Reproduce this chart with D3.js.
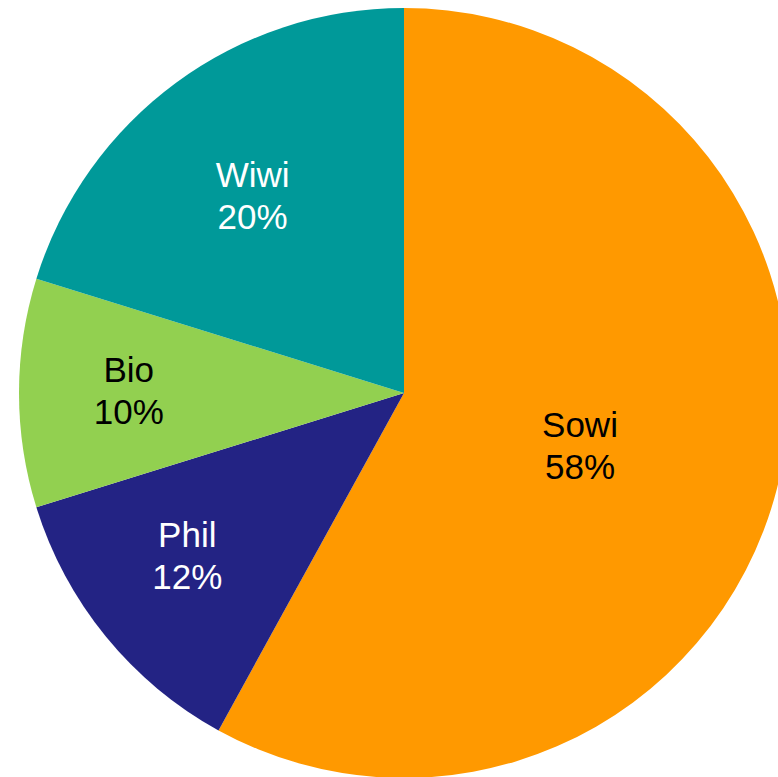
<!DOCTYPE html>
<html><head><meta charset="utf-8">
<script src="https://cdn.jsdelivr.net/npm/d3@7"></script>
<style>html,body{margin:0;padding:0;background:#fff;}svg{display:block;}</style>
</head><body>
<svg id="chart" width="778" height="777"></svg>
<script>
const categories = ["Sowi", "Phil", "Bio", "Wiwi"];
const values = [58.0, 12.2, 9.6, 20.2];
const colors = ["#FF9900", "#232384", "#92D050", "#009999"];
const textColors = ["#000000", "#ffffff", "#000000", "#ffffff"];
const labelRadiusFrac = [0.48, 0.70, 0.72, 0.65];
const labelNudge = [[-3, 6], [-8, -8], [2, -3], [-3, 4]];

const svg = d3.select("#chart");
const cx = 404, cy = 393, r = 385;
const total = d3.sum(values);
const data = categories.map((c, i) => ({name: c, value: values[i], i}));
const pie = d3.pie().value(d => d.value).sort(null);
const arcs = pie(data);
const arc = d3.arc().innerRadius(0).outerRadius(r);
const g = svg.append("g").attr("transform", `translate(${cx},${cy})`);
g.selectAll("path").data(arcs).join("path")
  .attr("d", arc)
  .attr("fill", d => colors[d.data.i]);

const lbl = g.selectAll("text").data(arcs).join("text")
  .attr("transform", d => {
    const a = (d.startAngle + d.endAngle) / 2;
    const rr = r * labelRadiusFrac[d.data.i];
    const n = labelNudge[d.data.i];
    return `translate(${Math.sin(a) * rr + n[0]},${-Math.cos(a) * rr + n[1]})`;
  })
  .attr("text-anchor", "middle")
  .attr("font-family", "Liberation Sans, Arial, sans-serif")
  .attr("font-size", 35)
  .attr("fill", d => textColors[d.data.i]);
lbl.append("tspan").attr("x", 0).attr("y", -8).text(d => d.data.name);
lbl.append("tspan").attr("x", 0).attr("y", 34).text(d => Math.round(d.data.value / total * 100) + "%");
</script>
</body></html>
